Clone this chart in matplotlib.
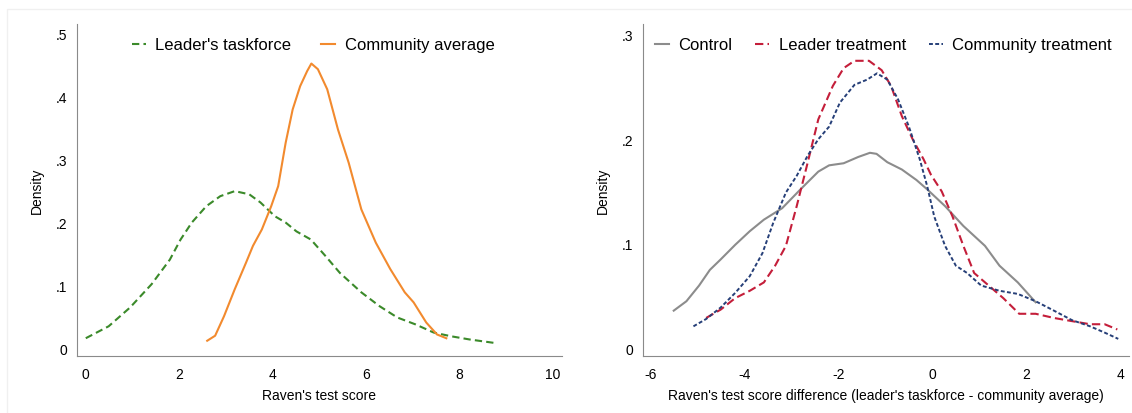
import matplotlib.pyplot as plt
from matplotlib.patches import Rectangle

plt.rcParams['font.family'] = ['Liberation Sans', 'DejaVu Sans']
plt.rcParams['axes.unicode_minus'] = False

# Left panel: Raven's test score densities
leader_x = [0.0, 0.49, 0.95, 1.41, 1.80, 2.03, 2.27, 2.58, 2.88, 3.19, 3.50, 3.74,
            4.05, 4.28, 4.51, 4.82, 5.13, 5.44, 5.90, 6.29, 6.67, 7.06, 7.45, 7.83,
            8.22, 8.80]
leader_y = [0.016, 0.035, 0.065, 0.102, 0.141, 0.173, 0.200, 0.226, 0.242, 0.250,
            0.245, 0.232, 0.210, 0.200, 0.186, 0.173, 0.147, 0.120, 0.089, 0.067,
            0.049, 0.038, 0.025, 0.019, 0.014, 0.008]

comm_x = [2.60, 2.77, 2.96, 3.19, 3.43, 3.58, 3.77, 3.97, 4.12, 4.28, 4.43, 4.59,
          4.74, 4.83, 4.97, 5.17, 5.40, 5.63, 5.90, 6.21, 6.52, 6.83, 7.02, 7.29,
          7.52, 7.72]
comm_y = [0.012, 0.020, 0.051, 0.094, 0.136, 0.163, 0.189, 0.226, 0.258, 0.327,
          0.380, 0.417, 0.441, 0.453, 0.444, 0.412, 0.348, 0.295, 0.221, 0.168,
          0.126, 0.089, 0.073, 0.041, 0.022, 0.016]

# Right panel: score difference densities by treatment
ctrl_x = [-5.51, -5.24, -4.97, -4.74, -4.51, -4.20, -3.89, -3.59, -3.20, -2.81,
          -2.43, -2.20, -1.89, -1.58, -1.33, -1.19, -0.96, -0.65, -0.34, -0.11,
          0.27, 0.66, 1.12, 1.43, 1.82, 2.20]
ctrl_y = [0.036, 0.045, 0.060, 0.075, 0.085, 0.099, 0.112, 0.123, 0.134, 0.152,
          0.169, 0.175, 0.177, 0.183, 0.187, 0.186, 0.178, 0.171, 0.161, 0.152,
          0.136, 0.117, 0.098, 0.079, 0.063, 0.044]

ltreat_x = [-4.82, -4.51, -4.20, -3.89, -3.59, -3.35, -3.12, -2.89, -2.66, -2.43,
            -2.12, -1.89, -1.66, -1.35, -1.08, -0.88, -0.65, -0.42, -0.19, -0.03,
            0.20, 0.43, 0.66, 0.89, 1.20, 1.51, 1.85, 2.20, 2.59, 2.97, 3.36, 3.67,
            3.94]
ltreat_y = [0.029, 0.037, 0.048, 0.055, 0.063, 0.079, 0.098, 0.136, 0.177, 0.219,
            0.251, 0.268, 0.275, 0.275, 0.266, 0.251, 0.222, 0.200, 0.181, 0.166,
            0.150, 0.126, 0.098, 0.072, 0.060, 0.048, 0.033, 0.033, 0.029, 0.026,
            0.023, 0.023, 0.018]

ctreat_x = [-5.09, -4.82, -4.51, -4.20, -3.89, -3.62, -3.39, -3.12, -2.89, -2.66,
            -2.43, -2.20, -1.97, -1.66, -1.39, -1.18, -0.96, -0.73, -0.50, -0.27,
            -0.11, 0.04, 0.27, 0.50, 0.74, 1.04, 1.43, 1.82, 2.20, 2.59, 2.97, 3.36,
            3.67, 3.96]
ctreat_y = [0.021, 0.028, 0.039, 0.053, 0.069, 0.091, 0.120, 0.149, 0.165, 0.184,
            0.200, 0.212, 0.235, 0.252, 0.257, 0.263, 0.257, 0.238, 0.212, 0.181,
            0.155, 0.126, 0.098, 0.079, 0.072, 0.060, 0.055, 0.052, 0.045, 0.036,
            0.027, 0.021, 0.015, 0.009]

left_xticks = [0, 2, 4, 6, 8, 10]
left_yticks = [0, 0.1, 0.2, 0.3, 0.4, 0.5]
left_ylabels = ['0', '.1', '.2', '.3', '.4', '.5']
right_xticks = [-6, -4, -2, 0, 2, 4]
right_yticks = [0, 0.1, 0.2, 0.3]
right_ylabels = ['0', '.1', '.2', '.3']


def style_axes(ax):
    for side in ['top', 'right']:
        ax.spines[side].set_visible(False)
    ax.spines['left'].set_color('#8a8a8a')
    ax.spines['bottom'].set_color('#8a8a8a')
    ax.tick_params(length=0, labelsize=10)
    ax.tick_params(axis='y', pad=7)
    ax.tick_params(axis='x', pad=8)
    ax.set_ylabel('Density', fontsize=10, labelpad=8)


fig = plt.figure(figsize=(11.32, 4.14), dpi=100)

# faint outline of the graph region
fig.patches.append(Rectangle((0.0062, -0.05), 1.1, 1.026, transform=fig.transFigure,
                             fill=False, edgecolor='#f0f0f0', linewidth=1))

ax1 = fig.add_axes([0.0678, 0.1384, 0.4284, 0.8012])
ax1.plot(leader_x, leader_y, color='#3b8a2a', linestyle=(0, (3.5, 2)), linewidth=1.5,
         label="Leader's taskforce")
ax1.plot(comm_x, comm_y, color='#f28a2e', linewidth=1.5, label='Community average')
ax1.set_xlim(-0.193, 10.19)
ax1.set_ylim(-0.0118, 0.5159)
ax1.set_xticks(left_xticks)
ax1.set_yticks(left_yticks, left_ylabels)
ax1.set_xlabel("Raven's test score", fontsize=10, labelpad=5)
style_axes(ax1)
ax1.legend(loc='center left', bbox_to_anchor=(0.1166, 0.889),
           bbox_transform=fig.transFigure, ncol=2, frameon=False, fontsize=12,
           borderpad=0, borderaxespad=0, handlelength=0.85, columnspacing=1.8,
           handletextpad=0.55)

ax2 = fig.add_axes([0.5678, 0.1384, 0.4296, 0.8012])
ax2.plot(ctrl_x, ctrl_y, color='#8c8c8c', linewidth=1.5, label='Control')
ax2.plot(ltreat_x, ltreat_y, color='#c41e3a', linestyle=(0, (4, 2)), linewidth=1.5,
         label='Leader treatment')
ax2.plot(ctreat_x, ctreat_y, color='#263f78', linestyle=(0, (2, 1.2)), linewidth=1.4,
         label='Community treatment')
ax2.set_xlim(-6.17, 4.19)
ax2.set_ylim(-0.0071, 0.3102)
ax2.set_xticks(right_xticks)
ax2.set_yticks(right_yticks, right_ylabels)
ax2.set_xlabel("Raven's test score difference (leader's taskforce - community average)",
               fontsize=10, labelpad=5)
style_axes(ax2)
ax2.legend(loc='center left', bbox_to_anchor=(0.5782, 0.889),
           bbox_transform=fig.transFigure, ncol=3, frameon=False, fontsize=12,
           borderpad=0, borderaxespad=0, handlelength=0.85, columnspacing=1.4,
           handletextpad=0.55)

fig.savefig('out.png', dpi=100)
